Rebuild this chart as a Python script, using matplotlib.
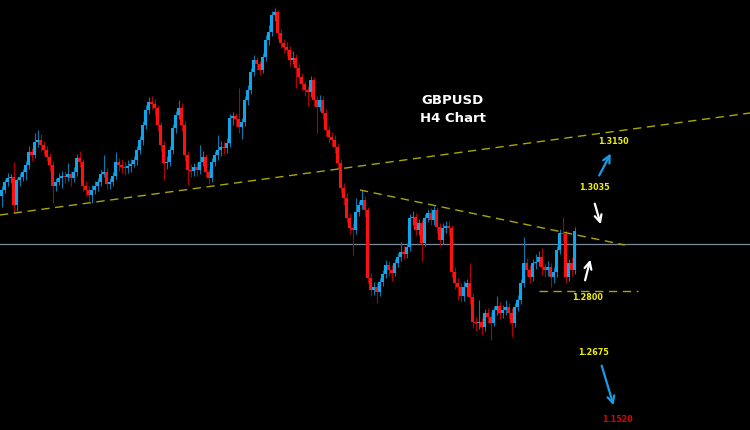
import numpy as np
import matplotlib
matplotlib.use('Agg')
import matplotlib.pyplot as plt

# GBPUSD H4 candles, open of each bar = previous close
first_open = 1.2895
closes = [1.2901, 1.2909, 1.2913, 1.2914, 1.2886, 1.2911, 1.2914, 1.2919, 1.2926, 1.2939,
          1.2936, 1.2949, 1.2951, 1.2946, 1.2941, 1.2934, 1.2926, 1.2905, 1.2909, 1.2913,
          1.2915, 1.2914, 1.2917, 1.2913, 1.2919, 1.2933, 1.2929, 1.2905, 1.2901, 1.2896,
          1.2901, 1.2905, 1.2909, 1.2917, 1.2919, 1.2907, 1.2909, 1.2915, 1.2929, 1.2926,
          1.2924, 1.2923, 1.2925, 1.2927, 1.2931, 1.2941, 1.2951, 1.2966, 1.2981, 1.2989,
          1.2987, 1.2983, 1.2966, 1.2946, 1.2928, 1.2929, 1.2941, 1.2963, 1.2976, 1.2983,
          1.2966, 1.2936, 1.2921, 1.2920, 1.2924, 1.2921, 1.2929, 1.2934, 1.2919, 1.2913,
          1.2929, 1.2936, 1.2941, 1.2944, 1.2943, 1.2948, 1.2973, 1.2975, 1.2972, 1.2964,
          1.2969, 1.2991, 1.3001, 1.3019, 1.3031, 1.3027, 1.3021, 1.3034, 1.3051, 1.3059,
          1.3076, 1.3079, 1.3058, 1.3048, 1.3044, 1.3041, 1.3031, 1.3033, 1.3023, 1.3014,
          1.3007, 1.3001, 1.2999, 1.3011, 1.2991, 1.2984, 1.2991, 1.2978, 1.2961, 1.2954,
          1.2951, 1.2944, 1.2928, 1.2903, 1.2893, 1.2873, 1.2863, 1.2861, 1.2879, 1.2886,
          1.2891, 1.2881, 1.2813, 1.2801, 1.2804, 1.2799, 1.2809, 1.2817, 1.2826, 1.2821,
          1.2818, 1.2828, 1.2834, 1.2839, 1.2837, 1.2844, 1.2873, 1.2874, 1.2861, 1.2868,
          1.2848, 1.2873, 1.2878, 1.2871, 1.2881, 1.2864, 1.2851, 1.2863, 1.2865, 1.2863,
          1.2819, 1.2808, 1.2804, 1.2795, 1.2804, 1.2808, 1.2794, 1.2769, 1.2768, 1.2769,
          1.2764, 1.2778, 1.2774, 1.2768, 1.2781, 1.2785, 1.2778, 1.2781, 1.2784, 1.2778,
          1.2768, 1.2784, 1.2791, 1.2808, 1.2828, 1.2821, 1.2814, 1.2828, 1.2829, 1.2834,
          1.2824, 1.2821, 1.2824, 1.2814, 1.2819, 1.2841, 1.2858, 1.2857, 1.2814, 1.2828,
          1.2821, 1.2860]
highs = [1.2905, 1.2912, 1.2918, 1.2917, 1.2929, 1.2913, 1.2918, 1.2922, 1.2930, 1.2945,
         1.2943, 1.2958, 1.2961, 1.2957, 1.2950, 1.2945, 1.2938, 1.2930, 1.2913, 1.2918,
         1.2920, 1.2920, 1.2928, 1.2920, 1.2924, 1.2937, 1.2940, 1.2932, 1.2910, 1.2905,
         1.2906, 1.2910, 1.2913, 1.2921, 1.2936, 1.2923, 1.2913, 1.2919, 1.2939, 1.2933,
         1.2932, 1.2929, 1.2931, 1.2932, 1.2935, 1.2945, 1.2955, 1.2970, 1.2986, 1.2994,
         1.2995, 1.2992, 1.2986, 1.2969, 1.2950, 1.2935, 1.2945, 1.2967, 1.2980, 1.2991,
         1.2988, 1.2970, 1.2940, 1.2927, 1.2928, 1.2929, 1.2946, 1.2940, 1.2937, 1.2922,
         1.2933, 1.2940, 1.2956, 1.2950, 1.2949, 1.2953, 1.2977, 1.2979, 1.2978, 1.3003,
         1.2973, 1.2995, 1.3006, 1.3023, 1.3036, 1.3034, 1.3030, 1.3038, 1.3056, 1.3066,
         1.3080, 1.3083, 1.3081, 1.3062, 1.3052, 1.3049, 1.3045, 1.3040, 1.3037, 1.3027,
         1.3018, 1.3010, 1.3005, 1.3015, 1.3014, 1.2995, 1.2996, 1.2995, 1.2982, 1.2965,
         1.2959, 1.2956, 1.2948, 1.2932, 1.2908, 1.2898, 1.2878, 1.2868, 1.2893, 1.2890,
         1.2901, 1.2895, 1.2884, 1.2818, 1.2809, 1.2808, 1.2813, 1.2821, 1.2831, 1.2830,
         1.2826, 1.2832, 1.2838, 1.2849, 1.2845, 1.2848, 1.2877, 1.2880, 1.2878, 1.2872,
         1.2871, 1.2877, 1.2882, 1.2883, 1.2885, 1.2884, 1.2868, 1.2868, 1.2870, 1.2870,
         1.2866, 1.2824, 1.2813, 1.2808, 1.2810, 1.2812, 1.2828, 1.2798, 1.2774, 1.2791,
         1.2773, 1.2782, 1.2783, 1.2779, 1.2785, 1.2795, 1.2789, 1.2786, 1.2791, 1.2788,
         1.2783, 1.2788, 1.2796, 1.2812, 1.2854, 1.2833, 1.2826, 1.2832, 1.2837, 1.2840,
         1.2843, 1.2828, 1.2830, 1.2828, 1.2824, 1.2845, 1.2862, 1.2874, 1.2861, 1.2832,
         1.2834, 1.2864]
lows = [1.2884, 1.2898, 1.2905, 1.2908, 1.2878, 1.2880, 1.2905, 1.2910, 1.2911, 1.2922,
        1.2930, 1.2933, 1.2944, 1.2940, 1.2936, 1.2930, 1.2920, 1.2888, 1.2900, 1.2906,
        1.2903, 1.2908, 1.2910, 1.2905, 1.2909, 1.2915, 1.2924, 1.2900, 1.2895, 1.2890,
        1.2888, 1.2897, 1.2900, 1.2905, 1.2914, 1.2902, 1.2902, 1.2905, 1.2912, 1.2920,
        1.2918, 1.2916, 1.2918, 1.2919, 1.2924, 1.2926, 1.2937, 1.2946, 1.2962, 1.2977,
        1.2982, 1.2975, 1.2960, 1.2940, 1.2911, 1.2922, 1.2925, 1.2937, 1.2958, 1.2972,
        1.2960, 1.2930, 1.2906, 1.2914, 1.2915, 1.2915, 1.2917, 1.2925, 1.2914, 1.2907,
        1.2909, 1.2925, 1.2931, 1.2935, 1.2937, 1.2938, 1.2944, 1.2966, 1.2965, 1.2958,
        1.2952, 1.2965, 1.2986, 1.2997, 1.3015, 1.3021, 1.3016, 1.3018, 1.3030, 1.3046,
        1.3055, 1.3070, 1.3052, 1.3043, 1.3038, 1.3035, 1.3025, 1.3027, 1.3003, 1.3008,
        1.3001, 1.2995, 1.2985, 1.2994, 1.2985, 1.2958, 1.2980, 1.2972, 1.2955, 1.2948,
        1.2945, 1.2938, 1.2922, 1.2898, 1.2886, 1.2868, 1.2857, 1.2836, 1.2857, 1.2875,
        1.2882, 1.2874, 1.2808, 1.2795, 1.2796, 1.2788, 1.2795, 1.2805, 1.2813, 1.2815,
        1.2810, 1.2815, 1.2824, 1.2830, 1.2832, 1.2833, 1.2840, 1.2866, 1.2856, 1.2856,
        1.2830, 1.2845, 1.2869, 1.2866, 1.2866, 1.2858, 1.2845, 1.2847, 1.2858, 1.2855,
        1.2814, 1.2802, 1.2791, 1.2789, 1.2790, 1.2795, 1.2787, 1.2763, 1.2760, 1.2762,
        1.2756, 1.2760, 1.2768, 1.2751, 1.2765, 1.2776, 1.2772, 1.2773, 1.2776, 1.2772,
        1.2754, 1.2764, 1.2780, 1.2787, 1.2804, 1.2815, 1.2808, 1.2810, 1.2822, 1.2825,
        1.2816, 1.2814, 1.2815, 1.2804, 1.2808, 1.2814, 1.2837, 1.2850, 1.2808, 1.2810,
        1.2815, 1.2817]

# drawn objects on the chart
rising_trend = ([-0.5, 249.5], [1.2876, 1.2978])
falling_trend = ([119.5, 207.8], [1.2901, 1.2846])
price_line = 1.2847
support_level = 1.2800
support_span = [179, 212]

# target labels: (text, x, price, colour)
labels = [('1.3150', 204.0, 1.2950, '#f0f000'),
          ('1.3035', 197.5, 1.2903, '#f0f000'),
          ('1.2800', 195.5, 1.2793, '#f0f000'),
          ('1.2675', 197.5, 1.2738, '#f0f000'),
          ('1.1520', 205.5, 1.2671, '#e00000')]
# arrows: (x from, price from, x to, price to, colour)
arrows = [(198.8, 1.2913, 203.5, 1.2940, '#1a9be6'),
          (197.5, 1.2890, 200.0, 1.2864, 'white'),
          (194.3, 1.2808, 196.5, 1.2834, 'white'),
          (199.8, 1.2728, 204.3, 1.2683, '#1a9be6')]

opens = [first_open] + closes[:-1]
idx = np.arange(len(closes))
o = np.array(opens)
c = np.array(closes)
h = np.array(highs)
l = np.array(lows)
up = c >= o

fig = plt.figure(figsize=(7.5, 4.3), dpi=100, facecolor='black')
ax = fig.add_axes([0, 0, 1, 1])
ax.set_facecolor('black')

blue = '#10a4e8'
red = '#ff1010'
ax.vlines(idx[up], l[up], h[up], color='#0a78b0', lw=0.8, zorder=2)
ax.vlines(idx[~up], l[~up], h[~up], color='#b00000', lw=0.8, zorder=2)
body = np.maximum(np.abs(c - o), 0.00008)
ax.bar(idx[up], body[up], bottom=np.minimum(o, c)[up], width=0.72, color=blue, zorder=3)
ax.bar(idx[~up], body[~up], bottom=np.minimum(o, c)[~up], width=0.72, color=red, zorder=3)

ax.axhline(price_line, color='#7a8a9a', lw=0.9, zorder=1)
ax.plot(*rising_trend, color='#a8a800', lw=1.0, ls=(0, (6, 4)), zorder=4)
ax.plot(*falling_trend, color='#a8a800', lw=1.0, ls=(0, (6, 4)), zorder=4)
ax.plot(support_span, [support_level] * 2, color='#a8a800', lw=1.0, ls=(0, (6, 4)), zorder=4)

ax.text(150.5, 1.2991, 'GBPUSD', color='white', fontsize=9.5, fontweight='bold',
        ha='center', va='center', family='DejaVu Sans')
ax.text(150.5, 1.2973, 'H4 Chart', color='white', fontsize=9.5, fontweight='bold',
        ha='center', va='center', family='DejaVu Sans')

for txt, x, y, col in labels:
    ax.text(x, y, txt, color=col, fontsize=5.8, fontweight='bold', ha='center', va='center')

for x0, y0, x1, y1, col in arrows:
    ax.annotate('', xy=(x1, y1), xytext=(x0, y0),
                arrowprops=dict(arrowstyle='->,head_length=0.5,head_width=0.25', color=col, lw=1.6))

ax.set_xlim(-0.5, 249.5)
ax.set_ylim(1.2661, 1.3091)
ax.axis('off')

fig.savefig('out.png', dpi=100, facecolor='black')
